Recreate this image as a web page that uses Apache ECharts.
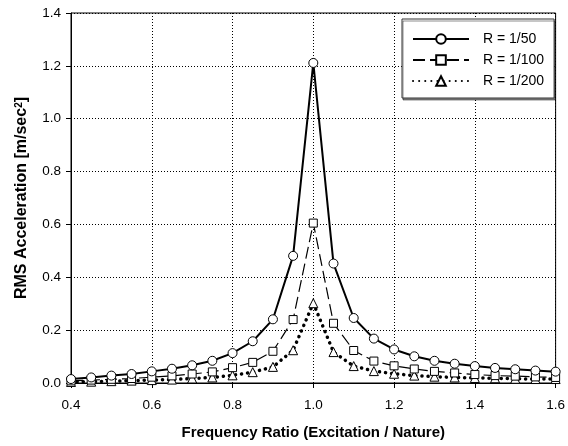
<!DOCTYPE html>
<html>
<head>
<meta charset="utf-8">
<script src="https://cdn.jsdelivr.net/npm/echarts@6/dist/echarts.min.js"></script>
<style>html,body{margin:0;padding:0;background:#fff}#c{width:568px;height:446px}</style>
</head>
<body>
<div id="c"></div>
<script>
var freqRatio = [0.4,0.45,0.5,0.55,0.6,0.65,0.7,0.75,0.8,0.85,0.9,0.95,1.0,1.05,1.1,1.15,1.2,1.25,1.3,1.35,1.4,1.45,1.5,1.55,1.6];
var r50  = [0.015,0.021,0.028,0.034,0.044,0.054,0.067,0.084,0.113,0.158,0.241,0.481,1.211,0.452,0.246,0.168,0.127,0.101,0.084,0.073,0.064,0.057,0.052,0.047,0.043];
var r100 = [0.008,0.011,0.014,0.017,0.022,0.027,0.034,0.042,0.058,0.078,0.120,0.240,0.605,0.226,0.123,0.083,0.065,0.053,0.044,0.038,0.032,0.028,0.026,0.023,0.021];
var r200 = [0.004,0.005,0.007,0.009,0.011,0.013,0.017,0.021,0.029,0.041,0.061,0.124,0.302,0.117,0.064,0.045,0.035,0.028,0.024,0.021,0.019,0.018,0.016,0.015,0.015];
var seriesNames = ['R = 1/50','R = 1/100','R = 1/200'];
var xTitle = 'Frequency Ratio (Excitation / Nature)';

function pairs(ys){ return freqRatio.map(function(x,i){ return [x, ys[i]]; }); }
var font = 'Liberation Sans, Arial, Helvetica, sans-serif';
var chart = echarts.init(document.getElementById('c'), null, {renderer:'canvas'});
chart.setOption({
  animation:false,
  backgroundColor:'#fff',
  grid:{left:71,right:10,top:13,bottom:63,show:true,borderColor:'#000',borderWidth:1,backgroundColor:'transparent'},
  legend:{
    orient:'vertical', left:402, top:19, width:150,
    padding:[13,10,10,10], itemGap:7, itemWidth:56, itemHeight:12,
    backgroundColor:'#fff', borderColor:'#333', borderWidth:1,
    shadowColor:'rgba(0,0,0,0.45)', shadowOffsetX:1, shadowOffsetY:2, shadowBlur:0,
    textStyle:{fontFamily:font,fontSize:14,color:'#000',padding:[0,0,0,9]},
    data:seriesNames
  },
  xAxis:{
    type:'value', min:0.4, max:1.6, interval:0.2,
    name:xTitle, nameLocation:'middle', nameGap:42,
    nameTextStyle:{fontFamily:font,fontSize:15,fontWeight:'bold',color:'#000'},
    axisLine:{show:true,lineStyle:{color:'#000',width:1}},
    axisTick:{show:true,inside:false,length:5,lineStyle:{color:'#000'}},
    axisLabel:{fontFamily:font,fontSize:13.5,color:'#000',margin:15,formatter:function(v){return v.toFixed(1);}},
    splitLine:{show:true,lineStyle:{color:'#000',width:1,type:[1,2]}}
  },
  yAxis:{
    type:'value', min:0, max:1.4, interval:0.2,
    name:'RMS Acceleration [m/sec{sup|2}]', nameLocation:'middle', nameGap:41, nameRotate:90,
    nameTextStyle:{fontFamily:font,fontSize:16,fontWeight:'bold',color:'#000',
      rich:{sup:{fontFamily:font,fontSize:10,fontWeight:'bold',color:'#000',verticalAlign:'top',padding:[0,0,6,0]}}},
    axisLine:{show:true,lineStyle:{color:'#000',width:1}},
    axisTick:{show:true,inside:false,length:5,lineStyle:{color:'#000'}},
    axisLabel:{fontFamily:font,fontSize:13.5,color:'#000',margin:10,formatter:function(v){return v.toFixed(1);}},
    splitLine:{show:true,lineStyle:{color:'#000',width:1,type:[1,2]}}
  },
  series:[
    {name:seriesNames[0],type:'line',data:pairs(r50),symbol:'circle',symbolSize:9,z:4,
     lineStyle:{color:'#000',width:2},itemStyle:{color:'#fff',borderColor:'#000',borderWidth:1}},
    {name:seriesNames[1],type:'line',data:pairs(r100),symbol:'rect',symbolSize:8,z:3,
     lineStyle:{color:'#000',width:1.2,type:[12,5]},itemStyle:{color:'#fff',borderColor:'#000',borderWidth:1}},
    {name:seriesNames[2],type:'line',data:pairs(r200),symbol:'triangle',symbolSize:9,z:2,
     lineStyle:{color:'#000',width:3.5,type:[0.1,6],cap:'round'},itemStyle:{color:'#fff',borderColor:'#000',borderWidth:1}}
  ]
});
</script>
</body>
</html>
